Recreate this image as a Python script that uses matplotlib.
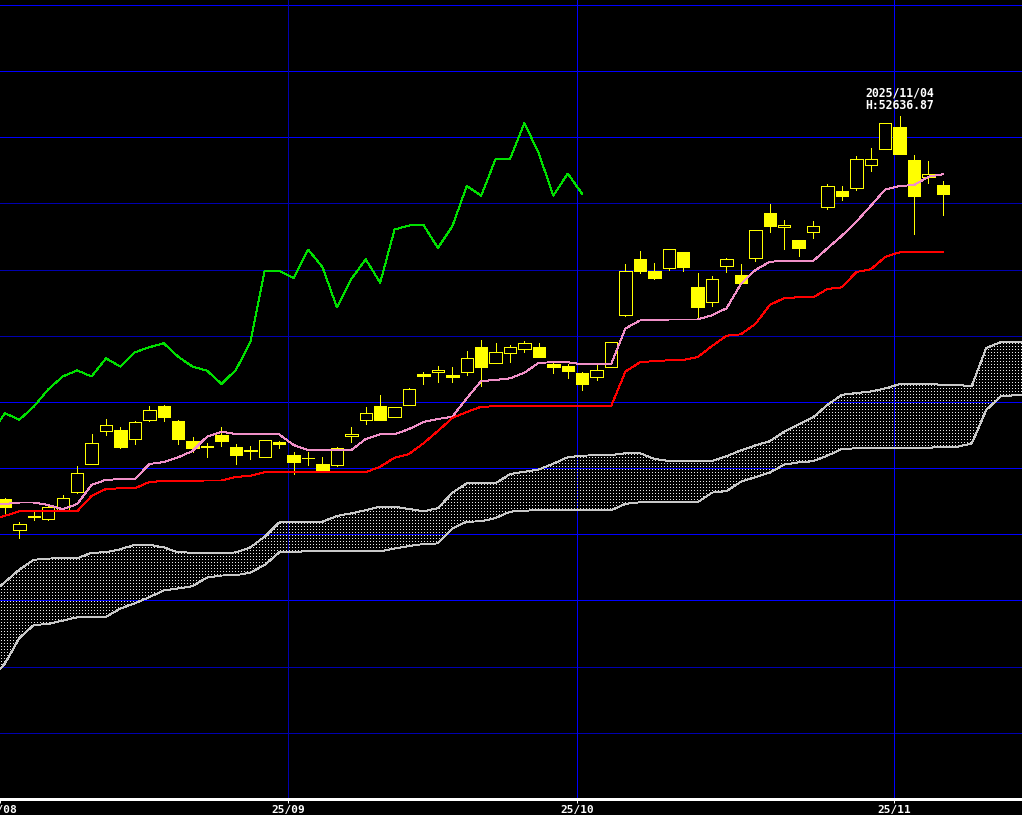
"""Nikkei 225 daily candles with Ichimoku lines, Aug-Nov 2025 (black terminal style)."""
import numpy as np
import matplotlib
matplotlib.use("Agg")
import matplotlib.pyplot as plt  # noqa: E402

# ---- data -------------------------------------------------------------------
dates = (
    ["2025-08-%02d" % d for d in (1, 4, 5, 6, 7, 8, 12, 13, 14, 15, 18, 19, 20, 21, 22, 25, 26, 27, 28, 29)]
    + ["2025-09-%02d" % d for d in (1, 2, 3, 4, 5, 8, 9, 10, 11, 12, 16, 17, 18, 19, 22, 24, 25, 26, 29, 30)]
    + ["2025-10-%02d" % d for d in (1, 2, 3, 6, 7, 8, 9, 10, 14, 15, 16, 17, 20, 21, 22, 23, 24, 27, 28, 29, 30, 31)]
    + ["2025-11-%02d" % d for d in (4, 5, 6, 7)]
)
opens = [41068, 40134, 40530, 40454, 40705, 41294, 42116, 43108, 43153, 42870,
         43465, 43877, 43425, 42821, 42650, 43002, 42630, 42549, 42328, 42791,
         42397, 42300, 42125, 42104, 42974, 43465, 43878, 43531, 43894, 44845,
         44910, 44815, 44915, 45654, 45186, 45492, 45614, 45664, 45149, 45088,
         44866, 44743, 45050, 46632, 48322, 47958, 48053, 48533, 47486, 47012,
         48119, 47828, 48337, 49717, 49279, 48881, 49128, 49904, 50377, 50477,
         51149, 51635, 52321, 51323, 50802, 50558]
highs = [41107, 40372, 40678, 40865, 41188, 42065, 43023, 43486, 43235, 43435,
         43877, 43908, 43465, 42942, 42771, 43244, 42731, 42670, 42851, 42835,
         42488, 42491, 42337, 42639, 43229, 43863, 44201, 43863, 44413, 44906,
         45087, 45048, 45526, 45864, 45776, 45722, 45852, 45776, 45198, 45158,
         44906, 45128, 45806, 48170, 48563, 48200, 48609, 48533, 47898, 47818,
         48352, 48170, 49213, 49983, 49503, 48881, 49464, 50588, 50528, 51444,
         51677, 52432, 52636.87, 51474, 51293, 50679]
lows = [40584, 39880, 40432, 40432, 40690, 41254, 42116, 43002, 42620, 42733,
        43415, 43425, 42733, 42491, 42348, 42671, 42126, 42288, 42328, 42610,
        41830, 42095, 41884, 42074, 42791, 43334, 43465, 43531, 43894, 44547,
        44613, 44613, 44818, 44484, 45186, 45217, 45515, 45369, 44882, 44735,
        44362, 44664, 45050, 46602, 47908, 47716, 47993, 47958, 46571, 46904,
        47938, 47606, 48264, 49140, 48627, 48415, 48960, 49836, 50108, 50396,
        50986, 51635, 51505, 49080, 50609, 49655]
closes = [40817, 40297, 40560, 40817, 41083, 41844, 42751, 43295, 42651, 43386,
          43749, 43555, 42889, 42609, 42670, 42831, 42408, 42509, 42851, 42740,
          42186, 42320, 41953, 42609, 43047, 43658, 43465, 43863, 44383, 44771,
          44955, 44770, 45320, 45068, 45502, 45654, 45776, 45369, 45068, 44946,
          44547, 44966, 45806, 47974, 47968, 47747, 48609, 48079, 46861, 47717,
          48312, 47606, 49213, 49334, 49349, 48657, 49309, 50528, 50236, 51344,
          51344, 52432, 51505, 50236, 50905, 50289]

# conversion (9) and base (26) lines, from day -1 to the last day
tenkan = [40916, 40916, 40962, 40962, 40886, 40756, 40916, 41491, 41651, 41663,
          41663, 42125, 42186, 42328, 42518, 42951, 43102, 43032, 43023, 43023,
          43023, 42699, 42548, 42548, 42548, 42548, 42881, 43023, 43023, 43183,
          43398, 43486, 43555, 44111, 44634, 44664, 44716, 44885, 45187, 45199,
          45199, 45138, 45138, 45138, 46221, 46463, 46472, 46493, 46493, 46493,
          46623, 46831, 47566, 47989, 48240, 48261, 48261, 48261, 48645, 49026,
          49449, 49930, 50422, 50528, 50558, 50809, 50881]
kijun = [40430, 40560, 40696, 40696, 40696, 40696, 40696, 41158, 41370, 41391,
         41391, 41581, 41612, 41621, 41624, 41627, 41627, 41733, 41772, 41875,
         41875, 41875, 41875, 41875, 41875, 41875, 41875, 42044, 42316, 42428,
         42751, 43123, 43516, 43697, 43857, 43869, 43869, 43869, 43869, 43869,
         43869, 43869, 43869, 43869, 44921, 45199, 45238, 45259, 45268, 45359,
         45691, 46003, 46045, 46357, 46931, 47143, 47164, 47164, 47415, 47466,
         47929, 48010, 48382, 48524, 48524, 48524, 48524]

# leading spans (cloud), from day -1 to day 71
span_a = [38196, 38559, 38937, 39230, 39269, 39272, 39275, 39444, 39457, 39550,
          39686, 39686, 39605, 39457, 39447, 39432, 39435, 39453, 39605, 39931,
          40357, 40381, 40381, 40381, 40554, 40635, 40729, 40835, 40835, 40765,
          40696, 40789, 41255, 41542, 41542, 41542, 41823, 41890, 41959, 42137,
          42331, 42379, 42388, 42394, 42449, 42449, 42283, 42216, 42216, 42216,
          42216, 42358, 42539, 42688, 42818, 43099, 43325, 43534, 43915, 44217,
          44271, 44317, 44410, 44540, 44543, 44543, 44519, 44507, 44486, 45631,
          45807, 45822, 45822]
span_b = [35597, 36099, 36869, 37259, 37289, 37392, 37492, 37501, 37510, 37755,
          37918, 38099, 38305, 38365, 38432, 38695, 38755, 38761, 38846, 39073,
          39453, 39475, 39485, 39485, 39485, 39485, 39485, 39485, 39571, 39647,
          39707, 39725, 40179, 40381, 40393, 40493, 40684, 40717, 40726, 40726,
          40726, 40726, 40726, 40726, 40922, 40968, 40968, 40968, 40968, 40968,
          41261, 41306, 41590, 41729, 41865, 42107, 42174, 42210, 42379, 42579,
          42600, 42618, 42618, 42618, 42618, 42618, 42640, 42649, 42742, 43758,
          44166, 44205, 44211]

LAG = 25
GRID_LEVELS = list(range(34000, 56001, 2000))
DARK_LEVELS = {34000, 36000, 46000, 48000, 50000}

BRIGHT_BLUE = "#0000ff"
DARK_BLUE = "#0000b0"
YELLOW = "#ffff00"
LW = 0.7  # about one pixel at 100 dpi

plt.rcParams["lines.antialiased"] = False
plt.rcParams["patch.antialiased"] = False

W, H = 1022, 815
AX_H = 799
fig = plt.figure(figsize=(W / 100, H / 100), dpi=100, facecolor="black")
ax = fig.add_axes([0, (H - AX_H) / H, 1, AX_H / H])
ax.set_facecolor("black")

n = len(closes)
idx = np.arange(n)
x0, x1 = -0.3465, 70.48
y0, y1 = 32000, 56150

# grid
for lv in GRID_LEVELS:
    ax.axhline(lv, color=DARK_BLUE if lv in DARK_LEVELS else BRIGHT_BLUE, lw=LW, zorder=0.5)

months = [d[:7] for d in dates]
starts = [i for i in range(n) if i == 0 or months[i] != months[i - 1]]
bounds = [max(i - 0.36, x0 + 0.005) for i in starts]
labels = [dates[i][2:4] + "/" + dates[i][5:7] for i in starts]
for i, b in zip(starts, bounds):
    if i == 0:
        continue
    col = DARK_BLUE if dates[i][5:7] == "09" else BRIGHT_BLUE
    ax.axvline(b, color=col, lw=LW, zorder=0.6)

# cloud: dotted texture clipped to the band between the spans
idx_k = np.arange(-1, len(span_a) - 1)
band = ax.fill_between(idx_k, span_a, span_b, facecolor="none", edgecolor="none", zorder=1)
tex = np.zeros((AX_H, W, 4))
tex[1::3, 1::3] = (0.92, 0.92, 0.92, 1.0)
im = ax.imshow(tex, extent=(x0, x1, y0, y1), origin="upper", interpolation="nearest",
               aspect="auto", zorder=1.2)
im.set_clip_path(band.get_paths()[0], ax.transData)
ax.plot(idx_k, span_a, color="#c8c8c8", lw=LW, zorder=1.5)
ax.plot(idx_k, span_b, color="#c8c8c8", lw=LW, zorder=1.5)

# candles
ax.vlines(idx, lows, highs, color=YELLOW, lw=LW, zorder=3)
o = np.array(opens)
c = np.array(closes)
down = c < o
ax.bar(idx, np.abs(c - o), bottom=np.minimum(o, c), width=0.86,
       color=np.where(down, YELLOW, "black"), edgecolor=YELLOW, lw=LW, zorder=3.5)

# lines
idx_l = np.arange(-1, n)
ax.plot(idx_l, tenkan, color="#f090c8", lw=LW, zorder=5)
ax.plot(idx_l, kijun, color="#ff0000", lw=LW, zorder=5)
ax.plot(idx[LAG - 1:] - LAG, closes[LAG - 1:], color="#00e000", lw=LW, zorder=5)

# high marker text
top = int(np.argmax(highs))
ax.annotate(f"{dates[top].replace('-', '/')}\nH:{highs[top]:.2f}", xy=(top, highs[top]),
            xytext=(0, 4), textcoords="offset pixels", ha="center", va="bottom",
            color="white", fontsize=8.3, family="DejaVu Sans Mono", fontweight="bold",
            linespacing=0.95, zorder=6)

ax.set_xlim(x0, x1)
ax.set_ylim(y0, y1)
ax.set_xticks(bounds)
ax.set_xticklabels(labels, family="DejaVu Sans Mono", fontweight="bold", fontsize=8, color="white")
ax.tick_params(axis="x", colors="white", length=3, width=LW, pad=1.5, direction="out")
ax.set_yticks([])
for s in ("top", "left", "right"):
    ax.spines[s].set_visible(False)
ax.spines["bottom"].set_color("white")
ax.spines["bottom"].set_linewidth(1.0)

fig.savefig("out.png", dpi=100, facecolor="black")
